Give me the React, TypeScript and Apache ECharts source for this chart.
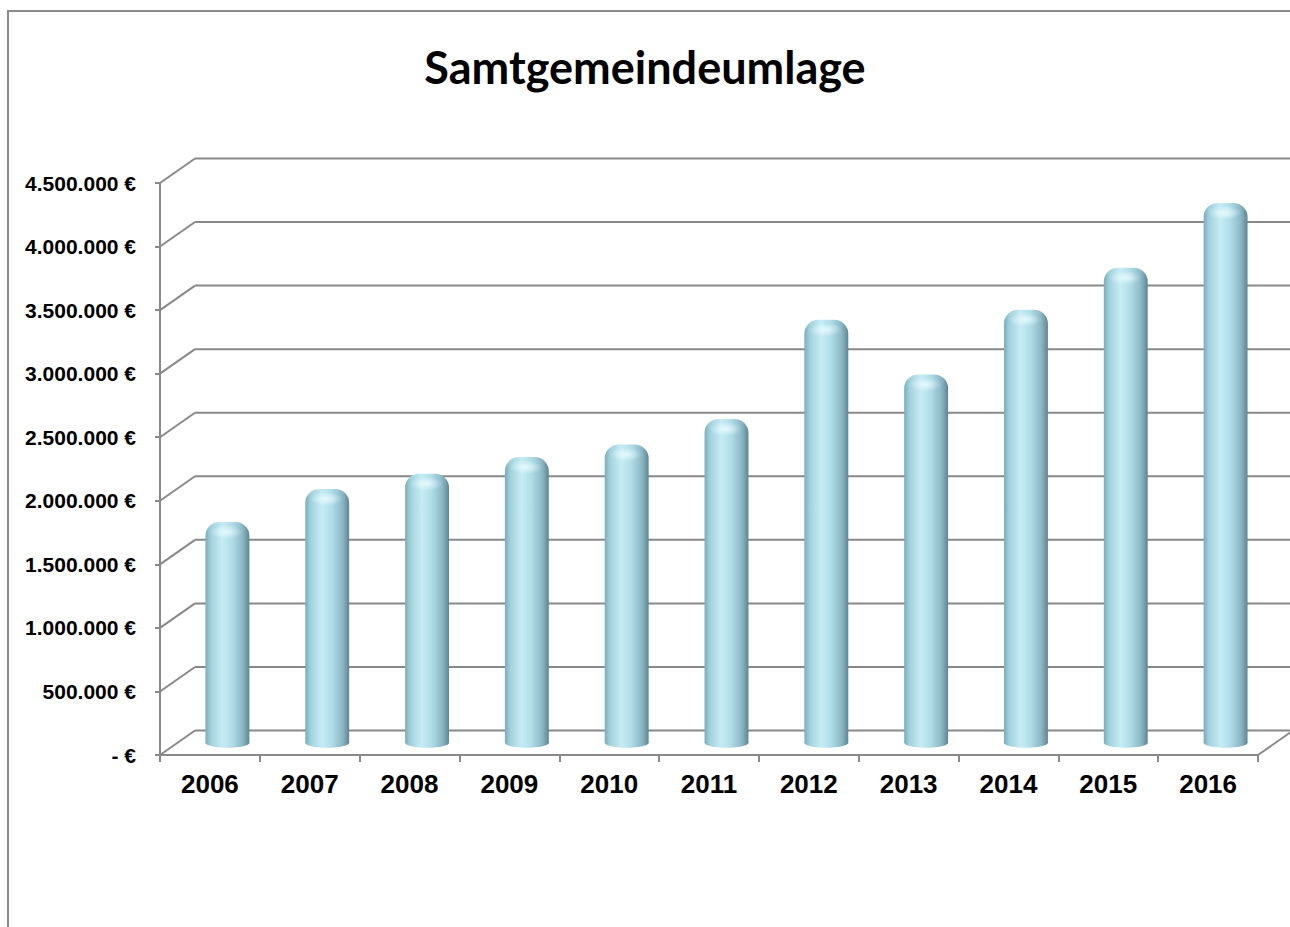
import React, { useEffect, useRef } from "react";
import * as echarts from "echarts";

const categories = ["2006", "2007", "2008", "2009", "2010", "2011", "2012", "2013", "2014", "2015", "2016"];
const values = [1690000, 1950000, 2070000, 2200000, 2300000, 2500000, 3280000, 2850000, 3360000, 3690000, 4200000];
const yTicks = [0, 500000, 1000000, 1500000, 2000000, 2500000, 3000000, 3500000, 4000000, 4500000];
const titleText = "Samtgemeindeumlage";

// pseudo-3D depth offset (back wall relative to front plane)
const DX = 35;
const DY = -24.5;
const GRID_COLOR = "#898989";

const fmt = (v: number) =>
  v === 0 ? "- €" : String(v).replace(/\B(?=(\d{3})+(?!\d))/g, ".") + " €";

export default function App() {
  const ref = useRef<HTMLDivElement>(null);
  useEffect(() => {
    if (!ref.current) return;
    const chart = echarts.init(ref.current, null, { renderer: "svg" });
    const barFill = () =>
      new echarts.graphic.LinearGradient(0, 0, 1, 0, [
        { offset: 0, color: "#7aacb9" },
        { offset: 0.12, color: "#a1d1dc" },
        { offset: 0.38, color: "#c6ecf5" },
        { offset: 0.6, color: "#b0dde8" },
        { offset: 0.85, color: "#8ab7c3" },
        { offset: 1, color: "#5f8592" },
      ]);
    const option: any = {
      animation: false,
      backgroundColor: "#ffffff",
      title: {
        text: titleText,
        left: "center",
        top: 39,
        textStyle: { fontFamily: "Lato", fontWeight: "bold", fontSize: 45, color: "#000" },
      },
      graphic: [
        {
          type: "rect",
          shape: { x: 8, y: 11, width: 1400, height: 1000 },
          style: { fill: "none", stroke: "#8a8a8a", lineWidth: 2 },
          silent: true,
        },
      ],
      grid: { left: 160, right: 32, top: 183, bottom: 172, containLabel: false },
      xAxis: {
        type: "category",
        data: categories,
        boundaryGap: true,
        axisLine: { show: true, lineStyle: { color: GRID_COLOR, width: 2 } },
        axisTick: { show: true, length: 7, lineStyle: { color: GRID_COLOR, width: 2 } },
        axisLabel: {
          margin: 16,
          fontFamily: "Liberation Sans, Arial",
          fontWeight: "bold",
          fontSize: 26,
          color: "#000",
        },
        splitLine: { show: false },
      },
      yAxis: {
        type: "value",
        min: 0,
        max: 4500000,
        interval: 500000,
        axisLine: { show: true, lineStyle: { color: GRID_COLOR, width: 2 } },
        axisTick: { show: true, length: 5, lineStyle: { color: GRID_COLOR, width: 2 } },
        axisLabel: {
          margin: 24,
          formatter: fmt,
          fontFamily: "Liberation Sans, Arial",
          fontWeight: "bold",
          fontSize: 21,
          color: "#000",
        },
        splitLine: { show: false },
      },
      series: [
        {
          type: "custom",
          name: "walls",
          silent: true,
          z: 1,
          data: yTicks.map((v) => [0, v]),
          encode: { x: 0, y: 1 },
          renderItem: (params: any, api: any) => {
            const v = api.value(1);
            const y = api.coord([0, v])[1];
            const cs = params.coordSys;
            const left = cs.x;
            const right = cs.x + cs.width;
            const style = { stroke: GRID_COLOR, lineWidth: 2 };
            const children: any[] = [
              { type: "line", shape: { x1: left, y1: y, x2: left + DX, y2: y + DY }, style },
              { type: "line", shape: { x1: left + DX, y1: y + DY, x2: right + DX, y2: y + DY }, style },
            ];
            if (v === 0) {
              children.push({ type: "line", shape: { x1: right, y1: y, x2: right + DX, y2: y + DY }, style });
            }
            return { type: "group", children };
          },
        },
        {
          type: "custom",
          name: "Samtgemeindeumlage",
          z: 5,
          data: values.map((v, i) => [i, v]),
          encode: { x: 0, y: 1 },
          renderItem: (params: any, api: any) => {
            const idx = api.value(0);
            const v = api.value(1);
            const top = api.coord([idx, v]);
            const base = api.coord([idx, 0]);
            const w = api.size([1, 0])[0] * 0.44;
            const cx = top[0] + DX / 2;
            const ty = top[1] + DY / 2;
            const by = base[1] + DY / 2;
            const rx = w / 2;
            const capTop = ty - 6;
            return {
              type: "group",
              children: [
                {
                  type: "ellipse",
                  shape: { cx, cy: by, rx, ry: 5 },
                  style: { fill: barFill() },
                },
                {
                  type: "rect",
                  shape: { x: cx - rx, y: capTop, width: w, height: by - capTop, r: [14, 14, 0, 0] },
                  style: { fill: barFill() },
                },
                {
                  type: "ellipse",
                  shape: { cx: cx - 1, cy: capTop + 10, rx: rx * 0.75, ry: 7 },
                  style: {
                    fill: new echarts.graphic.RadialGradient(0.5, 0.5, 0.5, [
                      { offset: 0, color: "rgba(235,252,255,0.85)" },
                      { offset: 1, color: "rgba(235,252,255,0)" },
                    ]),
                  },
                },
              ],
            };
          },
        },
      ],
    };
    chart.setOption(option);
    return () => chart.dispose();
  }, []);
  return (
    <div
      ref={ref}
      style={{ position: "fixed", left: 0, top: 0, width: 1290, height: 927, background: "#fff" }}
    />
  );
}
